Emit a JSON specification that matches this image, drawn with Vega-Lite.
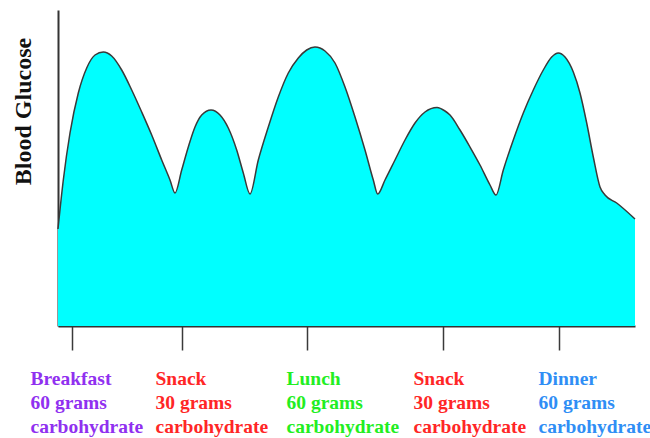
{
  "$schema": "https://vega.github.io/schema/vega-lite/v6.json",
  "width": 577,
  "height": 316,
  "autosize": "none",
  "padding": {"left": 58, "top": 10, "right": 15, "bottom": 112},
  "background": "white",
  "config": {
    "view": {"stroke": null},
    "font": "Liberation Serif"
  },
  "data": {
    "values": [
      {"t": 0, "glucose": 97},
      {"t": 5.3, "glucose": 146},
      {"t": 12, "glucose": 193},
      {"t": 20.3, "glucose": 233},
      {"t": 28.7, "glucose": 258},
      {"t": 37, "glucose": 271},
      {"t": 45.3, "glucose": 274},
      {"t": 53.7, "glucose": 270},
      {"t": 63.7, "glucose": 256},
      {"t": 73.7, "glucose": 236},
      {"t": 83.7, "glucose": 214},
      {"t": 93.7, "glucose": 191},
      {"t": 103.7, "glucose": 166},
      {"t": 112, "glucose": 146},
      {"t": 117, "glucose": 133},
      {"t": 123.7, "glucose": 156},
      {"t": 130.3, "glucose": 179},
      {"t": 137, "glucose": 199},
      {"t": 143.7, "glucose": 211},
      {"t": 153, "glucose": 216},
      {"t": 162, "glucose": 211},
      {"t": 170.3, "glucose": 198},
      {"t": 178.7, "glucose": 176},
      {"t": 185.3, "glucose": 153},
      {"t": 192, "glucose": 132},
      {"t": 200.3, "glucose": 166},
      {"t": 210.3, "glucose": 199},
      {"t": 220.3, "glucose": 229},
      {"t": 230.3, "glucose": 253},
      {"t": 240.3, "glucose": 268},
      {"t": 248.7, "glucose": 276},
      {"t": 257, "glucose": 279},
      {"t": 267, "glucose": 275},
      {"t": 277, "glucose": 263},
      {"t": 287, "glucose": 239},
      {"t": 297, "glucose": 209},
      {"t": 307, "glucose": 176},
      {"t": 315.3, "glucose": 146},
      {"t": 319.7, "glucose": 132},
      {"t": 327, "glucose": 146},
      {"t": 337, "glucose": 166},
      {"t": 347, "glucose": 186},
      {"t": 357, "glucose": 203},
      {"t": 367, "glucose": 214},
      {"t": 379, "glucose": 218.5},
      {"t": 387, "glucose": 215},
      {"t": 392, "glucose": 211},
      {"t": 402, "glucose": 196},
      {"t": 412, "glucose": 179},
      {"t": 422, "glucose": 161},
      {"t": 432, "glucose": 141},
      {"t": 438, "glucose": 131},
      {"t": 445.3, "glucose": 156},
      {"t": 455.3, "glucose": 186},
      {"t": 465.3, "glucose": 213},
      {"t": 475.3, "glucose": 236},
      {"t": 485.3, "glucose": 256},
      {"t": 493.7, "glucose": 269},
      {"t": 500.3, "glucose": 273},
      {"t": 507, "glucose": 269},
      {"t": 515.3, "glucose": 254},
      {"t": 522, "glucose": 233},
      {"t": 528.7, "glucose": 203},
      {"t": 535.3, "glucose": 169},
      {"t": 542, "glucose": 139},
      {"t": 547, "glucose": 131},
      {"t": 558.7, "glucose": 123},
      {"t": 577, "glucose": 107}
    ]
  },
  "mark": {
    "type": "area",
    "interpolate": "monotone",
    "color": "#00ffff",
    "opacity": 1,
    "line": {"color": "#3a3a3a", "strokeWidth": 1.5}
  },
  "encoding": {
    "x": {
      "field": "t",
      "type": "quantitative",
      "scale": {"domain": [0, 577], "nice": false, "zero": false},
      "axis": {
        "title": null,
        "grid": false,
        "values": [14, 124, 249, 385, 501],
        "domainColor": "#333333",
        "domainWidth": 2,
        "tickColor": "#3a3a3a",
        "tickWidth": 1.5,
        "tickSize": 24,
        "labelExpr": "datum.value < 50 ? ['Breakfast', '60 grams', 'carbohydrate'] : datum.value < 200 ? ['Snack', '30 grams', 'carbohydrate'] : datum.value < 300 ? ['Lunch', '60 grams', 'carbohydrate'] : datum.value < 450 ? ['Snack', '30 grams', 'carbohydrate'] : ['Dinner', '60 grams', 'carbohydrate']",
        "labelColor": {"expr": "datum.value < 50 ? '#9030f0' : datum.value < 200 ? '#ff2626' : datum.value < 300 ? '#22ee22' : datum.value < 450 ? '#ff2626' : '#2f8ef5'"},
        "labelOffset": {"expr": "datum.value < 50 ? -42 : datum.value < 200 ? -27 : datum.value < 300 ? -21 : datum.value < 450 ? -30 : -21"},
        "labelFont": {"expr": "'Liberation Serif'"},
        "labelAlign": "left",
        "labelBaseline": "top",
        "labelLineHeight": 24,
        "labelPadding": 19,
        "labelFontWeight": "bold",
        "labelFontSize": 19.5,
        "labelOverlap": false,
        "labelBound": false,
        "labelFlush": false
      }
    },
    "y": {
      "field": "glucose",
      "type": "quantitative",
      "scale": {"domain": [0, 316], "nice": false},
      "axis": {
        "title": "Blood Glucose",
        "grid": false,
        "ticks": false,
        "labels": false,
        "domainColor": "#333333",
        "domainWidth": 2,
        "titleFont": "Liberation Serif",
        "titleFontWeight": "bold",
        "titleFontSize": 24,
        "titleColor": "#111111",
        "titleAngle": -90,
        "titleAlign": "center",
        "titleBaseline": "middle",
        "titleX": -35,
        "titleY": 101
      }
    }
  }
}
